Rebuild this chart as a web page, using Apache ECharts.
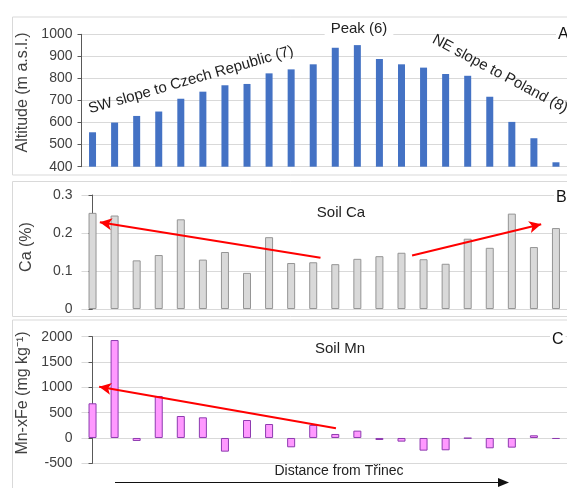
<!DOCTYPE html>
<html><head><meta charset="utf-8">
<script src="https://cdn.jsdelivr.net/npm/echarts@6/dist/echarts.min.js"></script>
<style>html,body{margin:0;padding:0;background:#fff}#c{width:567px;height:488px}</style>
</head><body><div id="c"></div>
<script>
const categories = ['1','2','3','4','5','6','7','8','9','10','11','12','13','14','15','16','17','18','19','20','21','22'];
const altitude = [556,600,630,650,708,740,769,775,823,841,864,939,951,888,864,849,820,812,717,603,529,420];
const soilCa = [0.253,0.246,0.128,0.142,0.236,0.130,0.150,0.095,0.189,0.121,0.123,0.118,0.132,0.139,0.148,0.131,0.119,0.185,0.161,0.251,0.163,0.213];
const soilMn = [685,1934,-59,829,434,408,-270,355,276,-184,257,79,145,-40,-72,-250,-243,-8,-204,-191,53,-20];
// trend arrows: [fromIndex, fromValue, toIndex, toValue]
const arrowsCa = [[10.33,0.135,0.33,0.228],[14.48,0.141,20.33,0.223]];
const arrowsMn = [[11.03,191,0.30,1012]];

const FONT = 'Liberation Sans, Arial, sans-serif';
const TXT = '#404040';
const GRID = '#d9d9d9';

const grids = [
  {left:81.5, width:491.3, top:34.3, height:132.4},
  {left:81.5, width:491.3, top:195, height:114},
  {left:81.5, width:491.3, top:336.7, height:126.6}
];
function catAxis(g){return {type:'category',gridIndex:g,data:categories,show:false,boundaryGap:true};}
function valX(g){return {type:'value',gridIndex:g,min:-0.5,max:21.5,show:false};}
function yAx(g,min,max,interval,name,gap,padL){
  return {type:'value',gridIndex:g,min:min,max:max,interval:interval,
    name:name,nameLocation:'middle',nameGap:gap,
    nameTextStyle:{fontFamily:FONT,fontSize:16,color:TXT,padding:[0,0,0,padL]},
    axisLine:{show:true,lineStyle:{color:'#595959',width:1}},
    axisTick:{show:true,inside:false,length:4,lineStyle:{color:'#595959'}},
    axisLabel:{fontFamily:FONT,fontSize:14,color:TXT,margin:9,formatter:function(v){return String(+v.toFixed(2));}},
    splitLine:{show:true,lineStyle:{color:GRID,width:1}}};
}
function arrowSeries(xi,yi,arr){
  return {type:'scatter',xAxisIndex:xi,yAxisIndex:yi,data:[],silent:true,
    markLine:{silent:true,symbol:['none','arrow'],symbolSize:[9,12],animation:false,
      lineStyle:{color:'#ff0000',width:2,type:'solid'},label:{show:false},
      data:arr.map(a=>[{coord:[a[0],a[1]]},{coord:[a[2],a[3]]}])}};
}

const option = {
  animation:false,
  grid:grids,
  xAxis:[catAxis(0),catAxis(1),catAxis(2),valX(1),valX(2)],
  yAxis:[
    yAx(0,400,1000,100,'Altitude (m a.s.l.)',48,16),
    yAx(1,0,0.3,0.1,'Ca (%)',47,10),
    yAx(2,-500,2000,500,'Mn-xFe (mg kg⁻¹)',48,14)
  ],
  series:[
    {type:'bar',xAxisIndex:0,yAxisIndex:0,data:altitude,barWidth:7,itemStyle:{color:'#4472c4'}},
    {type:'bar',xAxisIndex:1,yAxisIndex:1,data:soilCa,barWidth:8,itemStyle:{color:'#d9d9d9',borderColor:'#959595',borderWidth:1}},
    {type:'bar',xAxisIndex:2,yAxisIndex:2,data:soilMn,barWidth:8,itemStyle:{color:'#ff99ff',borderColor:'#8e3bb0',borderWidth:1}},
    arrowSeries(3,1,arrowsCa),
    arrowSeries(4,2,arrowsMn)
  ],
  graphic:[
    {type:'rect',z:-10,shape:{x:12.5,y:17,width:570,height:158},style:{fill:'none',stroke:GRID,lineWidth:1}},
    {type:'rect',z:-10,shape:{x:12.5,y:181.5,width:570,height:135},style:{fill:'none',stroke:GRID,lineWidth:1}},
    {type:'rect',z:-10,shape:{x:12.5,y:320,width:570,height:180},style:{fill:'none',stroke:GRID,lineWidth:1}},
    {type:'text',z:100,x:191,y:80,rotation:16*Math.PI/180,style:{text:'SW slope to Czech Republic (7)',font:'15px '+FONT,fill:'#222',align:'center',verticalAlign:'middle'}},
    {type:'text',z:100,x:500,y:74,rotation:-28*Math.PI/180,style:{text:'NE slope to Poland (8)',font:'15px '+FONT,fill:'#222',align:'center',verticalAlign:'middle'}},
    {type:'text',z:100,x:359,y:29,style:{text:'Peak (6)',font:'15px '+FONT,fill:'#222',align:'center',verticalAlign:'middle',backgroundColor:'#fff',padding:[0,6]}},
    {type:'text',z:100,x:556,y:35,style:{text:'A',font:'16px '+FONT,fill:'#111',align:'left',verticalAlign:'middle',backgroundColor:'#fff',padding:[0,2,0,2]}},
    {type:'text',z:100,x:554,y:198,style:{text:'B',font:'16px '+FONT,fill:'#111',align:'left',verticalAlign:'middle',backgroundColor:'#fff',padding:[0,2,0,2]}},
    {type:'text',z:100,x:550,y:340,style:{text:'C',font:'16px '+FONT,fill:'#111',align:'left',verticalAlign:'middle',backgroundColor:'#fff',padding:[0,2,0,2]}},
    {type:'text',z:100,x:341,y:213,style:{text:'Soil Ca',font:'15px '+FONT,fill:'#222',align:'center',verticalAlign:'middle'}},
    {type:'text',z:100,x:340,y:349,style:{text:'Soil Mn',font:'15px '+FONT,fill:'#222',align:'center',verticalAlign:'middle'}},
    {type:'text',z:100,x:339,y:471,style:{text:'Distance from Třinec',font:'14px '+FONT,fill:'#222',align:'center',verticalAlign:'middle'}},
    {type:'line',z:100,shape:{x1:115,y1:482.5,x2:500,y2:482.5},style:{stroke:'#111',lineWidth:1.2}},
    {type:'polygon',z:100,shape:{points:[[498,478],[509,482.5],[498,487]]},style:{fill:'#111'}}
  ]
};
echarts.init(document.getElementById('c'),null,{renderer:'canvas'}).setOption(option);
</script></body></html>
